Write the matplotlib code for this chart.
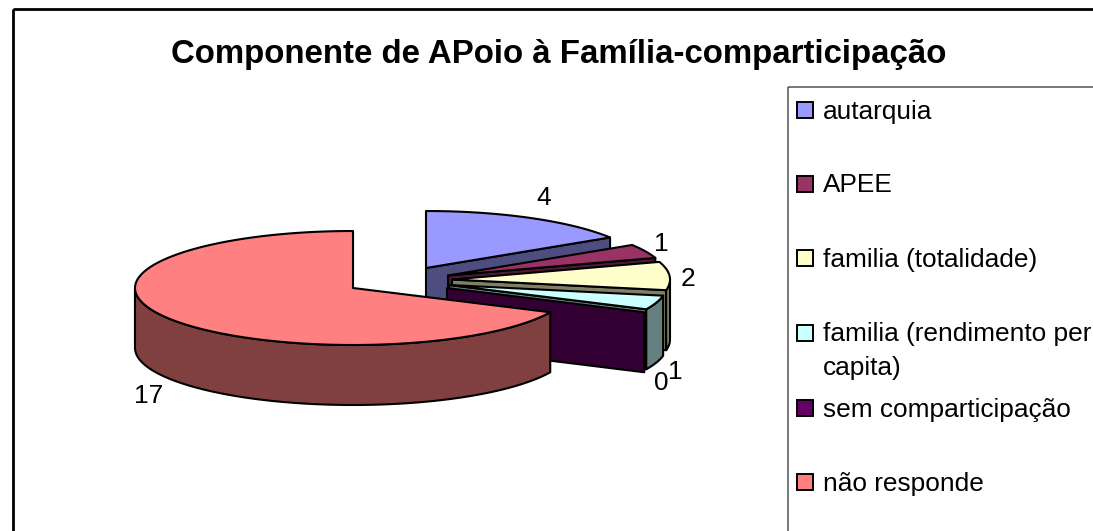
import numpy as np
import matplotlib
matplotlib.use("Agg")
import matplotlib.pyplot as plt
from matplotlib.patches import Polygon, Rectangle

categories = ["autarquia", "APEE", "familia (totalidade)", "familia (rendimento per\ncapita)",
              "sem comparticipação", "não responde"]
values = [4, 1, 2, 1, 0, 17]
top_colors = ["#9999FF", "#993366", "#FFFFCC", "#CCFFFF", "#660066", "#FF8080"]
title_text = "Componente de APoio à Família-comparticipação"

# layout (pixels)
W, H = 1093, 531
centres = [(426, 268), (448, 275.5), (452, 279.5), (449, 285), (447, 288), (353, 288)]
RX, RY, DEPTH = 218, 57, 60
label_pos = [(544, 198), (661, 244), (688, 279), (675, 372), (661, 383), (149, 396)]
legend_y = [110, 184, 258, 333, 408, 482]

plt.rcParams["font.family"] = ["Liberation Sans", "DejaVu Sans"]
fig = plt.figure(figsize=(W / 100, H / 100), dpi=100)
ax = fig.add_axes([0, 0, 1, 1])
ax.set_xlim(0, W)
ax.set_ylim(H, 0)
ax.axis("off")


def shade(c):
    r = np.array(matplotlib.colors.to_rgb(c)) * 0.5
    return tuple(r)


def pt(c, a):
    a = np.asarray(a)
    return np.column_stack([c[0] + RX * np.sin(a), c[1] - RY * np.cos(a)])


total = sum(values)
edges = np.cumsum([0] + values) / total * 2 * np.pi
LW = 1.5
z = 1
for i, v in enumerate(values):
    c, a0, a1 = centres[i], edges[i], edges[i + 1]
    top, side = top_colors[i], shade(top_colors[i])
    kw = dict(edgecolor="black", linewidth=LW, joinstyle="round")
    # closing radial wall, seen from the front on the right-hand slices
    if a1 < np.pi:
        e = pt(c, [a1])[0]
        wall = [c, e, (e[0], e[1] + DEPTH), (c[0], c[1] + DEPTH)]
        ax.add_patch(Polygon(wall, closed=True, facecolor=side, zorder=z, **kw))
        z += 1
    # outer rim, front half only
    r0, r1 = max(a0, np.pi / 2), min(a1, 3 * np.pi / 2)
    if r1 > r0:
        arc = pt(c, np.linspace(r0, r1, 80))
        rim = np.vstack([arc, (arc + [0, DEPTH])[::-1]])
        ax.add_patch(Polygon(rim, closed=True, facecolor=side, zorder=z, **kw))
        z += 1
    # top face
    if v > 0:
        arc = pt(c, np.linspace(a0, a1, 120))
        ax.add_patch(Polygon(np.vstack([[c], arc]), closed=True, facecolor=top, zorder=z, **kw))
        z += 1

for (x, y), v in zip(label_pos, values):
    ax.text(x, y, str(v), fontsize=18.9, ha="center", va="center", color="black", zorder=50)

ax.text(559, 54, title_text, fontsize=23.8, fontweight="bold", ha="center", va="center", zorder=50)

# chart frame and legend frame
ax.add_patch(Rectangle((12.5, 9), W + 5, H + 5, fill=False, edgecolor="black", linewidth=2, zorder=60))
ax.add_patch(Rectangle((788, 87), W, H, fill=False, edgecolor="#555555", linewidth=1.1, zorder=60))

for y, name, col in zip(legend_y, categories, top_colors):
    ax.add_patch(Rectangle((797, y - 8), 16, 16, facecolor=col, edgecolor="black", linewidth=1.4, zorder=60))
    ax.text(823, y + 8.5, name.split("\n")[0], fontsize=18.9, ha="left", va="baseline", zorder=60)
    if "\n" in name:
        ax.text(823, y + 42, name.split("\n")[1], fontsize=18.9, ha="left", va="baseline", zorder=60)

fig.savefig("out.png", dpi=100)
